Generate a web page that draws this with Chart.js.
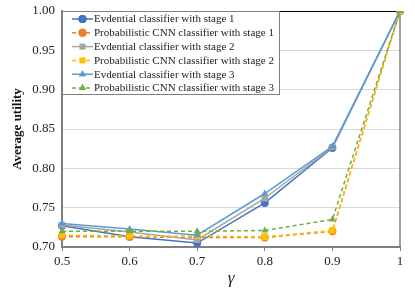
<!DOCTYPE html>
<html>
<head>
<meta charset="utf-8">
<script src="https://cdn.jsdelivr.net/npm/chart.js@4"></script>
<style>
  html, body { margin: 0; padding: 0; background: #fff; }
  #wrap { width: 415px; height: 289px; position: relative; }
</style>
</head>
<body>
<div id="wrap"><canvas id="chart"></canvas></div>
<script>
const gammaLabels = ['0.5', '0.6', '0.7', '0.8', '0.9', '1'];

const seriesNames = [
    'Evdential classifier with stage 1',
    'Probabilistic CNN classifier with stage 1',
    'Evdential classifier with stage 2',
    'Probabilistic CNN classifier with stage 2',
    'Evdential classifier with stage 3',
    'Probabilistic CNN classifier with stage 3'
];

const evStage1 = [0.727, 0.713, 0.705, 0.756, 0.826, 1.0];
const cnnStage1 = [0.713, 0.713, 0.712, 0.712, 0.720, 1.0];
const evStage2 = [0.728, 0.719, 0.709, 0.762, 0.827, 1.0];
const cnnStage2 = [0.715, 0.714, 0.714, 0.713, 0.721, 1.0];
const evStage3 = [0.730, 0.723, 0.715, 0.768, 0.828, 1.0];
const cnnStage3 = [0.720, 0.720, 0.720, 0.721, 0.735, 1.0];

const yTicks = [0.70, 0.75, 0.80, 0.85, 0.90, 0.95, 1.00];

const colors = ['#4472C4', '#ED7D31', '#A5A5A5', '#FFC000', '#5B9BD5', '#70AD47'];
const shapes = ['circle', 'circle', 'rect', 'rect', 'triangle', 'triangle'];
const allSeries = [evStage1, cnnStage1, evStage2, cnnStage2, evStage3, cnnStage3];

const serif = '"Liberation Serif", "Times New Roman", serif';

const datasets = allSeries.map((vals, i) => {
    const dashed = i % 2 === 1;
    return {
        label: seriesNames[i],
        data: vals,
        borderColor: colors[i],
        backgroundColor: colors[i],
        borderWidth: 1.5,
        borderDash: dashed ? [4, 3] : [],
        pointStyle: shapes[i],
        pointRadius: shapes[i] === 'rect' ? 4.5 : 4,
        pointBorderWidth: 0,
        tension: 0,
        order: 6 - i
    };
});

// legend drawn inside the plot, top-left
const innerLegend = {
    id: 'innerLegend',
    afterDraw(chart) {
        const ctx = chart.ctx;
        const area = chart.chartArea;
        const x0 = area.left, y0 = area.top;
        const w = 218, h = 84;
        ctx.save();
        ctx.fillStyle = '#fff';
        ctx.fillRect(x0, y0, w, h);
        ctx.strokeStyle = '#7f7f7f';
        ctx.lineWidth = 1;
        ctx.strokeRect(x0 + 0.5, y0 + 0.5, w - 1, h - 1);
        ctx.font = '11px ' + serif;
        ctx.textBaseline = 'middle';
        chart.data.datasets.forEach((ds, i) => {
            const y = y0 + 8 + i * 13.8;
            ctx.strokeStyle = ds.borderColor;
            ctx.lineWidth = 1.5;
            ctx.setLineDash(ds.borderDash);
            ctx.beginPath();
            ctx.moveTo(x0 + 10, y);
            ctx.lineTo(x0 + 31, y);
            ctx.stroke();
            ctx.setLineDash([]);
            ctx.fillStyle = ds.backgroundColor;
            Chart.helpers.drawPoint(ctx, { pointStyle: ds.pointStyle, radius: 4, borderWidth: 0 }, x0 + 20.5, y);
            ctx.fill();
            ctx.fillStyle = '#222';
            ctx.fillText(ds.label, x0 + 32, y + 0.5);
        });
        ctx.restore();
    }
};

// frame: top dark line, right gray line
const frame = {
    id: 'frame',
    beforeDatasetsDraw(chart) {
        const ctx = chart.ctx;
        const a = chart.chartArea;
        ctx.save();
        ctx.strokeStyle = '#000';
        ctx.lineWidth = 1;
        ctx.beginPath();
        ctx.moveTo(a.left, a.top + 0.5);
        ctx.lineTo(a.right, a.top + 0.5);
        ctx.stroke();
        ctx.strokeStyle = '#808080';
        ctx.lineWidth = 1.5;
        ctx.beginPath();
        ctx.moveTo(a.right, a.top);
        ctx.lineTo(a.right, a.bottom);
        ctx.stroke();
        ctx.restore();
    }
};

new Chart(document.getElementById('chart'), {
    type: 'line',
    data: { labels: gammaLabels, datasets: datasets },
    options: {
        responsive: true,
        maintainAspectRatio: false,
        animation: false,
        layout: { padding: { top: 11, right: 15, left: 0, bottom: 0 } },
        plugins: {
            legend: { display: false },
            tooltip: { enabled: false }
        },
        scales: {
            x: {
                type: 'category',
                offset: false,
                grid: {
                    display: true,
                    drawOnChartArea: false,
                    drawTicks: true,
                    tickLength: 4,
                    color: '#808080'
                },
                border: { color: '#808080', width: 2 },
                ticks: {
                    color: '#222',
                    font: { family: serif, size: 13 },
                    padding: 3,
                    maxRotation: 0
                },
                title: {
                    display: true,
                    text: 'γ',
                    color: '#222',
                    font: { family: serif, size: 17, style: 'italic' },
                    padding: { top: 0, bottom: 0 }
                },
                afterFit(scale) {
                    scale.height = 42;
                    scale.paddingLeft = 0;
                    scale.paddingRight = 0;
                }
            },
            y: {
                min: 0.70,
                max: 1.00,
                afterBuildTicks(scale) {
                    scale.ticks = yTicks.map(v => ({ value: v }));
                },
                grid: {
                    color: '#d9d9d9',
                    drawTicks: false,
                    lineWidth: 1
                },
                border: { color: '#808080', width: 2 },
                ticks: {
                    color: '#222',
                    font: { family: serif, size: 13 },
                    padding: 7,
                    callback: v => v.toFixed(2)
                },
                title: {
                    display: true,
                    text: 'Average utility',
                    color: '#111',
                    font: { family: serif, size: 13, weight: 'bold' },
                    padding: { top: 10, bottom: 2 }
                },
                afterFit(scale) {
                    scale.width = 62;
                    scale.paddingTop = 0;
                    scale.paddingBottom = 0;
                }
            }
        }
    },
    plugins: [frame, innerLegend]
});
</script>
</body>
</html>
